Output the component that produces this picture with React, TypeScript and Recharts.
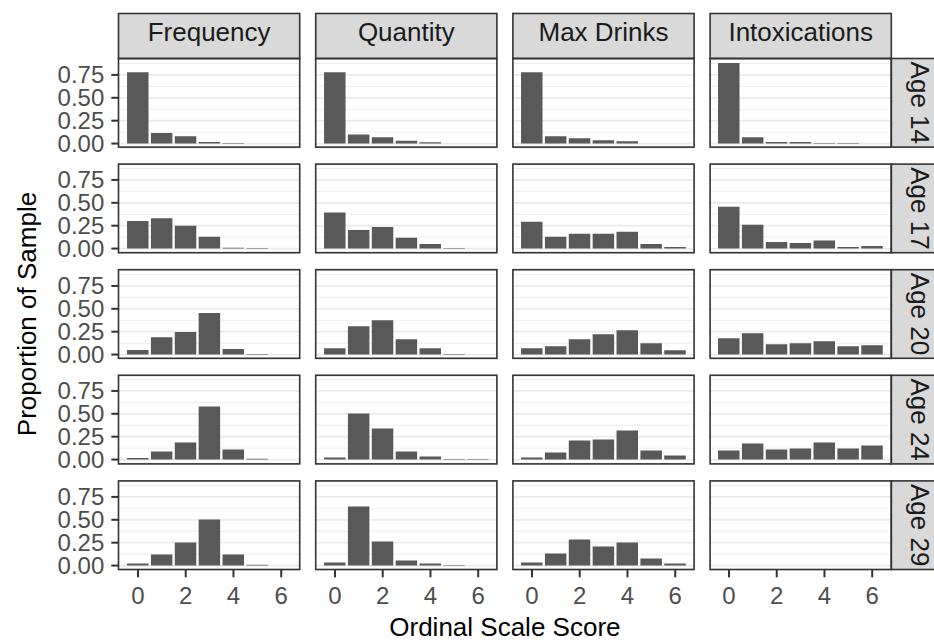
import React from 'react';
import { BarChart, Bar, XAxis, YAxis, CartesianGrid } from 'recharts';

// ---- data ----
const scores = [0, 1, 2, 3, 4, 5, 6];
const measures = ['Frequency', 'Quantity', 'Max Drinks', 'Intoxications'];
const ages = ['Age 14', 'Age 17', 'Age 20', 'Age 24', 'Age 29'];
const xTicks = [0, 2, 4, 6];
const yTicks = [0, 0.25, 0.5, 0.75];
const yMinorTicks = [0.125, 0.375, 0.625, 0.875];

// rows: age 14, 17, 20, 24, 29 ; columns: score 0..6
const frequency = [
  [0.78, 0.115, 0.08, 0.017, 0.007, 0, 0],
  [0.3, 0.33, 0.25, 0.13, 0.01, 0.005, 0],
  [0.05, 0.19, 0.247, 0.455, 0.061, 0.005, 0],
  [0.018, 0.087, 0.186, 0.579, 0.109, 0.008, 0],
  [0.022, 0.12, 0.251, 0.503, 0.12, 0.008, 0],
];
const quantity = [
  [0.78, 0.1, 0.07, 0.03, 0.015, 0, 0],
  [0.393, 0.204, 0.237, 0.117, 0.051, 0.005, 0],
  [0.069, 0.31, 0.375, 0.167, 0.069, 0.005, 0],
  [0.022, 0.503, 0.339, 0.087, 0.033, 0.005, 0.005],
  [0.033, 0.645, 0.262, 0.055, 0.022, 0.005, 0],
];
const maxDrinks = [
  [0.78, 0.08, 0.058, 0.036, 0.025, 0, 0],
  [0.292, 0.128, 0.161, 0.161, 0.183, 0.051, 0.018],
  [0.069, 0.091, 0.167, 0.222, 0.266, 0.124, 0.047],
  [0.022, 0.076, 0.208, 0.219, 0.317, 0.098, 0.044],
  [0.033, 0.131, 0.284, 0.208, 0.251, 0.077, 0.022],
];
const intoxications = [
  [0.88, 0.069, 0.017, 0.017, 0.005, 0.005, 0],
  [0.456, 0.259, 0.073, 0.062, 0.087, 0.018, 0.029],
  [0.178, 0.233, 0.113, 0.124, 0.145, 0.091, 0.102],
  [0.098, 0.175, 0.109, 0.12, 0.186, 0.12, 0.153],
  [],
];
const seriesByMeasure = [frequency, quantity, maxDrinks, intoxications];

// ---- layout ----
const FONT = '"Liberation Sans", Arial, Helvetica, sans-serif';
const PANEL_L = 118.5;
const COL_STEP = 197.2;
const PANEL_W = 181.2;
const PANEL_T = 58.5;
const ROW_STEP = 105.6;
const PANEL_H = 88.6;
const STRIP = 45;
const Y_AXIS_W = 80;
const X_AXIS_H = 45;
const X_DOMAIN: [number, number] = [-0.795, 6.795];
const Y_DOMAIN: [number, number] = [-0.044, 0.924];
const BAR_W = (0.9 * PANEL_W) / (X_DOMAIN[1] - X_DOMAIN[0]);
const BORDER = '#333333';
const TICK_FONT = 24;

function Panel({ r, c }: { r: number; c: number }) {
  const values = seriesByMeasure[c][r];
  const data = scores.map((s, i) => ({
    score: s,
    prop: values.length ? values[i] : null,
  }));
  const left = PANEL_L + c * COL_STEP - (c === 0 ? Y_AXIS_W : 0);
  const top = PANEL_T + r * ROW_STEP;
  const width = PANEL_W + (c === 0 ? Y_AXIS_W : 0);
  const height = PANEL_H + (r === 4 ? X_AXIS_H : 0);
  return (
    <div style={{ position: 'absolute', left, top, width, height }}>
      <BarChart
        width={width}
        height={height}
        data={data}
        margin={{ top: 0, right: 0, bottom: 0, left: 0 }}
        barSize={BAR_W}
      >
        <CartesianGrid yAxisId="minor" vertical={false} stroke="#EBEBEB" strokeWidth={0.9} />
        <CartesianGrid yAxisId="major" vertical={false} stroke="#EBEBEB" strokeWidth={1.7} />
        <XAxis
          type="number"
          dataKey="score"
          domain={X_DOMAIN}
          allowDataOverflow
          ticks={xTicks}
          interval={0}
          hide={r !== 4}
          height={X_AXIS_H}
          axisLine={false}
          tickSize={7.7}
          tickMargin={10}
          tickLine={{ stroke: BORDER, strokeWidth: 2 }}
          tick={{ fontSize: TICK_FONT, fill: '#4D4D4D', fontFamily: FONT }}
        />
        <YAxis
          yAxisId="major"
          type="number"
          domain={Y_DOMAIN}
          allowDataOverflow
          ticks={yTicks}
          interval={0}
          hide={c !== 0}
          width={Y_AXIS_W}
          axisLine={false}
          tickSize={7.7}
          tickMargin={7}
          tickLine={{ stroke: BORDER, strokeWidth: 2 }}
          tick={{ fontSize: TICK_FONT, fill: '#4D4D4D', fontFamily: FONT }}
          tickFormatter={(v: number) => v.toFixed(2)}
        />
        <YAxis
          yAxisId="minor"
          type="number"
          domain={Y_DOMAIN}
          allowDataOverflow
          ticks={yMinorTicks}
          interval={0}
          hide
        />
        <Bar yAxisId="major" dataKey="prop" fill="#595959" isAnimationActive={false} />
      </BarChart>
    </div>
  );
}

export default function App() {
  const panels: React.ReactNode[] = [];
  for (let r = 0; r < ages.length; r++) {
    for (let c = 0; c < measures.length; c++) {
      panels.push(<Panel key={`${r}-${c}`} r={r} c={c} />);
    }
  }
  const rightX = PANEL_L + 3 * COL_STEP + PANEL_W;
  const gridBottom = PANEL_T + 4 * ROW_STEP + PANEL_H;
  return (
    <div
      style={{
        position: 'absolute',
        left: 0,
        top: 0,
        width: 934,
        height: 643,
        background: '#FFFFFF',
        overflow: 'hidden',
        fontFamily: FONT,
      }}
    >
      <style>{`.recharts-surface{overflow:visible}`}</style>
      {panels}
      <svg
        width={934}
        height={643}
        style={{ position: 'absolute', left: 0, top: 0, pointerEvents: 'none' }}
      >
        {measures.map((m, c) => {
          const x = PANEL_L + c * COL_STEP;
          return (
            <g key={m}>
              <rect
                x={x}
                y={PANEL_T - STRIP}
                width={PANEL_W}
                height={STRIP}
                fill="#D9D9D9"
                stroke={BORDER}
                strokeWidth={1.6}
              />
              <text
                x={x + PANEL_W / 2}
                y={PANEL_T - STRIP / 2 - 4}
                textAnchor="middle"
                dominantBaseline="central"
                fontSize={26}
                fill="#1A1A1A"
                fontFamily={FONT}
              >
                {m}
              </text>
            </g>
          );
        })}
        {ages.map((a, r) => {
          const y = PANEL_T + r * ROW_STEP;
          const cx = rightX + STRIP / 2 + 6;
          const cy = y + PANEL_H / 2;
          return (
            <g key={a}>
              <rect
                x={rightX}
                y={y}
                width={STRIP + 6}
                height={PANEL_H}
                fill="#D9D9D9"
                stroke={BORDER}
                strokeWidth={1.6}
              />
              <text
                x={cx}
                y={cy}
                textAnchor="middle"
                dominantBaseline="central"
                fontSize={26}
                fill="#1A1A1A"
                fontFamily={FONT}
                transform={`rotate(90 ${cx} ${cy})`}
              >
                {a}
              </text>
            </g>
          );
        })}
        {ages.map((a, r) =>
          measures.map((m, c) => (
            <rect
              key={`${a}-${m}`}
              x={PANEL_L + c * COL_STEP}
              y={PANEL_T + r * ROW_STEP}
              width={PANEL_W}
              height={PANEL_H}
              fill="none"
              stroke={BORDER}
              strokeWidth={1.6}
            />
          ))
        )}
        <text
          x={(PANEL_L + rightX) / 2}
          y={627}
          textAnchor="middle"
          dominantBaseline="central"
          fontSize={26}
          fill="#000000"
          fontFamily={FONT}
        >
          Ordinal Scale Score
        </text>
        <text
          x={27}
          y={(PANEL_T + gridBottom) / 2}
          textAnchor="middle"
          dominantBaseline="central"
          fontSize={26}
          fill="#000000"
          fontFamily={FONT}
          transform={`rotate(-90 27 ${(PANEL_T + gridBottom) / 2})`}
        >
          Proportion of Sample
        </text>
      </svg>
    </div>
  );
}
